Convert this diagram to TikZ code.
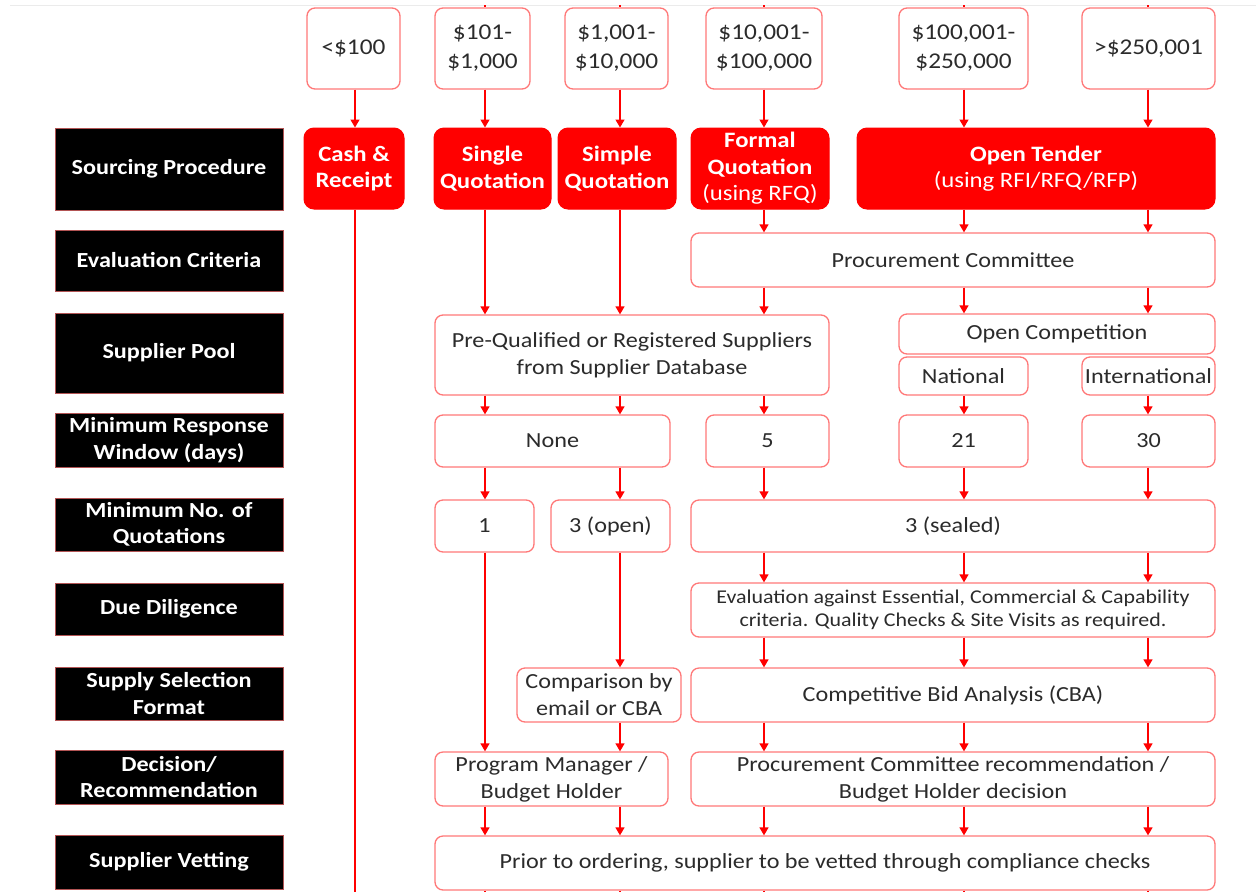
\documentclass[tikz,border=0pt]{standalone}
\usepackage{fontspec}
\setmainfont{Carlito}[FakeStretch=1.125]
\usetikzlibrary{arrows.meta}
\definecolor{rr}{HTML}{FF0000}
\definecolor{edge}{HTML}{FF7878}
\definecolor{txt}{HTML}{2B2B2B}
\begin{document}
\begin{tikzpicture}[x=1pt,y=-1pt,
  wbox/.style={draw=edge, line width=1.3pt, rounded corners=8pt, fill=white, text=txt, align=center, inner sep=0pt, font=\fontsize{21.5}{27}\selectfont},
  tbox/.style={wbox, font=\fontsize{22.5}{29}\selectfont},
  rbox/.style={draw=rr, fill=rr, line width=1pt, rounded corners=10pt, text=white, align=center, inner sep=0pt, font=\bfseries\fontsize{22}{26.5}\selectfont},
  lbl/.style={draw=edge!70!black, fill=black, line width=1pt, text=white, align=center, inner sep=0pt, font=\bfseries\fontsize{21.5}{26.5}\selectfont},
  arr/.style={draw=rr, line width=1.4pt, -{Triangle[width=9pt,length=8pt]}},
  ln/.style={draw=rr, line width=1.4pt}]
\useasboundingbox (0,0) rectangle (1256,892);
\fill[white] (0,0) rectangle (1256,892);
\draw[black!8, line width=1pt] (10,5) -- (1256,5);

% column positions
\coordinate (cA) at (355,0);
\coordinate (cB) at (485,0);
\coordinate (cC) at (620,0);
\coordinate (cD) at (764,0);
\coordinate (cE) at (964,0);
\coordinate (cF) at (1148,0);
\coordinate (edgeTop) at (0,5);
\coordinate (edgeBot) at (0,892);

% left labels
\node[lbl, minimum width=228pt, minimum height=82pt] (L1) at (169,169) {Sourcing Procedure};
\node[lbl, minimum width=228pt, minimum height=61pt] (L2) at (169,260.5) {Evaluation Criteria};
\node[lbl, minimum width=228pt, minimum height=80pt] (L3) at (169,353) {Supplier Pool};
\node[lbl, minimum width=228pt, minimum height=54pt] (L4) at (169,440) {Minimum Response\\Window (days)};
\node[lbl, minimum width=228pt, minimum height=53pt] (L5) at (169,524.5) {Minimum No. of\\Quotations};
\node[lbl, minimum width=228pt, minimum height=52pt] (L6) at (169,609) {Due Diligence};
\node[lbl, minimum width=228pt, minimum height=53pt] (L7) at (169,693.5) {Supply Selection\\Format};
\node[lbl, minimum width=228pt, minimum height=54pt] (L8) at (169,777) {Decision/\\Recommendation};
\node[lbl, minimum width=228pt, minimum height=54pt] (L9) at (169,862) {Supplier Vetting};

% value ranges
\node[tbox, minimum width=93pt, minimum height=81pt] (t1) at (353.5,48.5) {<\$100};
\node[tbox, minimum width=95pt, minimum height=81pt] (t2) at (482.5,48.5) {\$101-\\\$1,000};
\node[tbox, minimum width=103pt, minimum height=81pt] (t3) at (616.5,48.5) {\$1,001-\\\$10,000};
\node[tbox, minimum width=116pt, minimum height=81pt] (t4) at (764,48.5) {\$10,001-\\\$100,000};
\node[tbox, minimum width=129pt, minimum height=81pt] (t5) at (963.5,48.5) {\$100,001-\\\$250,000};
\node[tbox, minimum width=133pt, minimum height=81pt] (t6) at (1148.5,48.5) {>\$250,001};

% sourcing procedure
\node[rbox, minimum width=100pt, minimum height=81pt] (s1) at (354,168.5) {Cash \&\\Receipt};
\node[rbox, minimum width=117pt, minimum height=81pt] (s2) at (492.5,168.5) {Single\\Quotation};
\node[rbox, minimum width=118pt, minimum height=81pt] (s3) at (617,168.5) {Simple\\Quotation};
\node[rbox, minimum width=138pt, minimum height=81pt] (s4) at (760,168.5) {Formal\\Quotation\\{\mdseries(using RFQ)}};
\node[rbox, minimum width=358pt, minimum height=81pt] (s5) at (1036,168.5) {Open Tender\\{\mdseries(using RFI/RFQ/RFP)}};

% evaluation criteria
\node[wbox, minimum width=524pt, minimum height=54pt] (pc) at (953,260) {Procurement Committee};

% supplier pool
\node[wbox, minimum width=394pt, minimum height=80pt] (pq) at (632,355) {Pre-Qualified or Registered Suppliers\\from Supplier Database};
\node[wbox, minimum width=316pt, minimum height=40pt] (oc) at (1057,334) {Open Competition};
\node[wbox, minimum width=129pt, minimum height=38pt] (nat) at (963.5,376) {National};
\node[wbox, minimum width=133pt, minimum height=38pt] (intl) at (1148.5,376) {International};

% response window
\node[wbox, minimum width=235pt, minimum height=52pt] (none) at (552.5,441) {None};
\node[wbox, minimum width=123pt, minimum height=52pt] (five) at (767.5,441) {5};
\node[wbox, minimum width=129pt, minimum height=52pt] (d21) at (963.5,441) {21};
\node[wbox, minimum width=133pt, minimum height=52pt] (d30) at (1148.5,441) {30};

% quotations
\node[wbox, minimum width=99pt, minimum height=52pt] (q1) at (484.5,526) {1};
\node[wbox, minimum width=119pt, minimum height=52pt] (qo) at (610.5,526) {3 (open)};
\node[wbox, minimum width=524pt, minimum height=52pt] (qs) at (953,526) {3 (sealed)};

% due diligence
\node[wbox, minimum width=524pt, minimum height=54pt, font=\fontsize{19.5}{23}\selectfont] (ev) at (953,610) {Evaluation against Essential, Commercial \& Capability\\criteria. Quality Checks \& Site Visits as required.};

% selection format
\node[wbox, minimum width=164pt, minimum height=54pt] (cmp) at (599,695) {Comparison by\\email or CBA};
\node[wbox, minimum width=524pt, minimum height=54pt] (cba) at (953,695) {Competitive Bid Analysis (CBA)};

% decision
\node[wbox, minimum width=233pt, minimum height=54pt] (pm) at (551.5,779) {Program Manager /\\Budget Holder};
\node[wbox, minimum width=524pt, minimum height=54pt] (pcr) at (953,779) {Procurement Committee recommendation /\\Budget Holder decision};

% vetting
\node[wbox, minimum width=780pt, minimum height=54pt] (vet) at (825,863) {Prior to ordering, supplier to be vetted through compliance checks};

% stubs at the top edge
\foreach \c/\t in {cB/t2,cC/t3,cD/t4,cE/t5,cF/t6}{
  \draw[ln] (\c |- edgeTop) -- (\c |- \t.north);
}

% ranges -> sourcing
\draw[arr] (cA |- t1.south) -- (cA |- s1.north);
\draw[arr] (cB |- t2.south) -- (cB |- s2.north);
\draw[arr] (cC |- t3.south) -- (cC |- s3.north);
\draw[arr] (cD |- t4.south) -- (cD |- s4.north);
\draw[arr] (cE |- t5.south) -- (cE |- s5.north);
\draw[arr] (cF |- t6.south) -- (cF |- s5.north);

% cash line
\draw[ln] (cA |- s1.south) -- (cA |- edgeBot);

% sourcing -> evaluation / pool
\draw[arr] (cB |- s2.south) -- (cB |- pq.north);
\draw[arr] (cC |- s3.south) -- (cC |- pq.north);
\draw[arr] (cD |- s4.south) -- (cD |- pc.north);
\draw[arr] (cE |- s5.south) -- (cE |- pc.north);
\draw[arr] (cF |- s5.south) -- (cF |- pc.north);

% evaluation -> pool
\draw[arr] (cD |- pc.south) -- (cD |- pq.north);
\draw[arr] (cE |- pc.south) -- (cE |- oc.north);
\draw[arr] (cF |- pc.south) -- (cF |- oc.north);

% pool -> response
\draw[arr] (cB |- pq.south) -- (cB |- none.north);
\draw[arr] (cC |- pq.south) -- (cC |- none.north);
\draw[arr] (cD |- pq.south) -- (cD |- five.north);
\draw[arr] (cE |- nat.south) -- (cE |- d21.north);
\draw[arr] (cF |- intl.south) -- (cF |- d30.north);

% response -> quotations
\draw[arr] (cB |- none.south) -- (cB |- q1.north);
\draw[arr] (cC |- none.south) -- (cC |- qo.north);
\draw[arr] (cD |- five.south) -- (cD |- qs.north);
\draw[arr] (cE |- d21.south) -- (cE |- qs.north);
\draw[arr] (cF |- d30.south) -- (cF |- qs.north);

% quotations -> due diligence / selection / decision
\draw[arr] (cB |- q1.south) -- (cB |- pm.north);
\draw[arr] (cC |- qo.south) -- (cC |- cmp.north);
\draw[arr] (cD |- qs.south) -- (cD |- ev.north);
\draw[arr] (cE |- qs.south) -- (cE |- ev.north);
\draw[arr] (cF |- qs.south) -- (cF |- ev.north);

% due diligence -> selection
\draw[arr] (cD |- ev.south) -- (cD |- cba.north);
\draw[arr] (cE |- ev.south) -- (cE |- cba.north);
\draw[arr] (cF |- ev.south) -- (cF |- cba.north);

% selection -> decision
\draw[arr] (cC |- cmp.south) -- (cC |- pm.north);
\draw[arr] (cD |- cba.south) -- (cD |- pcr.north);
\draw[arr] (cE |- cba.south) -- (cE |- pcr.north);
\draw[arr] (cF |- cba.south) -- (cF |- pcr.north);

% decision -> vetting
\draw[arr] (cB |- pm.south) -- (cB |- vet.north);
\draw[arr] (cC |- pm.south) -- (cC |- vet.north);
\draw[arr] (cD |- pcr.south) -- (cD |- vet.north);
\draw[arr] (cE |- pcr.south) -- (cE |- vet.north);
\draw[arr] (cF |- pcr.south) -- (cF |- vet.north);

% stubs at the bottom edge
\foreach \c in {cB,cC,cD,cE,cF}{
  \draw[ln] (\c |- vet.south) -- (\c |- edgeBot);
}
\end{tikzpicture}
\end{document}
